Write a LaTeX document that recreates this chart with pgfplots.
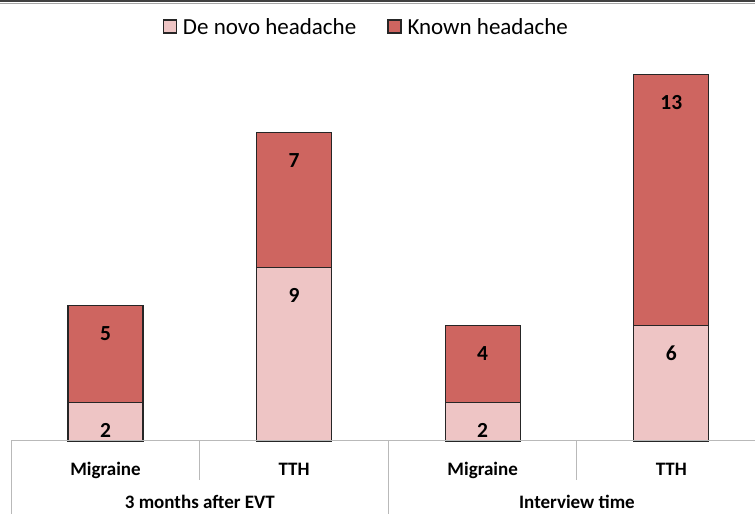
\documentclass[border=0pt]{standalone}
\usepackage{fontspec}
\setmainfont{Carlito}
\usepackage{pgfplots}
\pgfplotsset{compat=1.18}
\definecolor{lightb}{RGB}{238,197,197}
\definecolor{darkb}{RGB}{206,101,96}
\definecolor{sepc}{RGB}{185,185,185}
\begin{document}
\begin{tikzpicture}[x=1pt,y=1pt]
\useasboundingbox (0,0) rectangle (755,514);
\draw[line width=2pt, black!75] (0,513) -- (755,513);
\draw[line width=0.8pt, black!35] (0,511) -- (755,511);
\begin{axis}[
  at={(11.2pt,73pt)}, anchor=south west,
  scale only axis, width=743.8pt, height=378.3pt,
  xmin=-0.5, xmax=3.444, ymin=0, ymax=19.6,
  clip=false,
  ybar stacked, bar width=75pt,
  axis line style={draw=none},
  ytick=\empty,
  xtick=data,
  xticklabels={Migraine,TTH,Migraine,TTH},
  major tick length=0pt,
  xticklabel style={anchor=base, yshift=-35pt, font=\bfseries\fontsize{19}{19}\selectfont},
  point meta=explicit,
  visualization depends on=rawy \as \rawy,
  nodes near coords={\pgfmathprintnumber[assume math mode=true]{\pgfplotspointmeta}},
  every node near coord/.append style={anchor=center, yshift={\rawy*9.65pt-28pt}, font=\bfseries\fontsize{21.5}{21.5}\selectfont, text=black},
  legend style={at={(0.4774,1.094)}, anchor=center, draw=none, fill=none,
    legend columns=2, font=\fontsize{23}{23}\selectfont,
    /tikz/every even column/.append style={column sep=29pt}},
  legend image code/.code={\draw[#1,line width=1.3pt,draw=black!85] (0pt,-6pt) rectangle (13pt,7pt); \path (17pt,0pt);},
]
\draw[sepc, line width=1pt] (axis cs:-0.5,0) -- (axis cs:3.444,0);
\draw[sepc, line width=1pt] (axis cs:-0.5,0) -- ([yshift=-73pt]axis cs:-0.5,0);
\draw[sepc, line width=1pt] (axis cs:0.5,0) -- ([yshift=-39pt]axis cs:0.5,0);
\draw[sepc, line width=1pt] (axis cs:1.5,0) -- ([yshift=-73pt]axis cs:1.5,0);
\draw[sepc, line width=1pt] (axis cs:2.5,0) -- ([yshift=-39pt]axis cs:2.5,0);
\addplot[fill=lightb, draw=black!85, line width=1.2pt] coordinates {(0,2) [2] (1,9) [9] (2,2) [2] (3,6) [6]};
\addlegendentry{De novo headache}
\addplot[fill=darkb, draw=black!85, line width=1.2pt] coordinates {(0,5) [5] (1,7) [7] (2,4) [4] (3,13) [13]};
\addlegendentry{Known headache}
\node[anchor=base, font=\bfseries\fontsize{19}{19}\selectfont] at ([yshift=-67pt]axis cs:0.5,0) {3 months after EVT};
\node[anchor=base, font=\bfseries\fontsize{19}{19}\selectfont] at ([yshift=-67pt]axis cs:2.5,0) {Interview time};
\end{axis}
\end{tikzpicture}
\end{document}
